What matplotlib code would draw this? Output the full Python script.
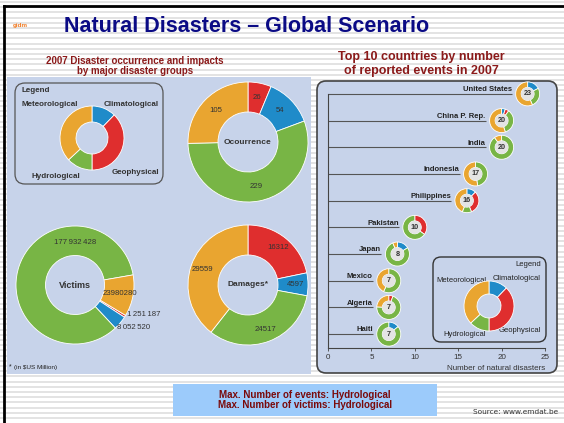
import numpy as np
import matplotlib
matplotlib.use("Agg")
import matplotlib.pyplot as plt
from matplotlib.patches import Rectangle, FancyBboxPatch, Circle
from matplotlib import font_manager

# groups and colours
groups = ["Climatological", "Geophysical", "Hydrological", "Meteorological"]
group_colors = {"Climatological": "#1f8bc9", "Geophysical": "#df2e2e",
                "Hydrological": "#78b545", "Meteorological": "#e9a530"}

# legend ring shares (as drawn)
legend_share = [44, 136, 47, 133]

# 2007 totals by group (order drawn clockwise: Geo, Clim, Hyd, Met)
big_order = ["Geophysical", "Climatological", "Hydrological", "Meteorological"]
occurrence = [26, 54, 229, 105]
victims = [1251187, 8052520, 177932428, 23980280]
damages = [16312, 4597, 24517, 29559]

# top 10 countries
countries = ["United States", "China P. Rep.", "India", "Indonesia", "Philippines",
             "Pakistan", "Japan", "Mexico", "Algeria", "Haiti"]
events = [23, 20, 20, 17, 16, 10, 8, 7, 7, 7]
# per country split: Clim, Geo, Hyd, Met
clim = [4, 1, 0, 0, 2, 0, 1.3, 0, 0, 1]
geo = [0, 1, 0, 0, 5, 3.5, 0, 0, 0.4, 0]
hyd = [6, 7, 18, 8, 2, 6.5, 6.2, 4, 4.9, 6]
met = [13, 11, 2, 9, 7, 0, 0.5, 3, 1.7, 0]

W, H = 564, 423
fig = plt.figure(figsize=(W / 100, H / 100), dpi=100)

try:
    font_manager.findfont("Liberation Sans Narrow", fallback_to_default=False)
    narrow = "Liberation Sans Narrow"
except Exception:
    narrow = "Liberation Sans"
sans = "Liberation Sans"

# page background in pixel coordinates
bg = fig.add_axes([0, 0, 1, 1])
bg.set_xlim(0, W)
bg.set_ylim(H, 0)
bg.axis("off")
bg.hlines(np.arange(2, H, 5.2), 0, W, color="#e3e3e3", lw=1.4, zorder=0)
bg.plot([4, 4], [6, H], color="black", lw=2, zorder=3)
bg.plot([4, W], [6, 6], color="black", lw=2, zorder=3)
bg.text(13, 27, "gidm", color="#f07a22", fontsize=4.5, fontweight="bold", family=sans)

bg.text(247, 27, "Natural Disasters \u2013 Global Scenario", ha="center", va="center",
        fontsize=15.5, fontweight="bold", color="#0b0b85", family=sans)
bg.text(135, 66, "2007 Disaster occurrence and impacts\nby major disaster groups",
        ha="center", va="center", fontsize=7, fontweight="bold", color="#8b1a1a",
        family=sans, linespacing=1.1)
bg.text(421, 64, "Top 10 countries by number\nof reported events in 2007",
        ha="center", va="center", fontsize=9, fontweight="bold", color="#8b1a1a",
        family=sans, linespacing=1.15)

panel = "#c7d3ea"
bg.add_patch(Rectangle((7, 77), 304, 297, fc=panel, ec="none", zorder=1))
bg.add_patch(FancyBboxPatch((317, 81), 240, 292, boxstyle="round,pad=0,rounding_size=9",
                            fc=panel, ec="#444444", lw=1.2, zorder=1))
bg.add_patch(FancyBboxPatch((15, 83), 148, 101, boxstyle="round,pad=0,rounding_size=10",
                            fc="none", ec="#555555", lw=0.9, zorder=2))
bg.add_patch(FancyBboxPatch((433, 257), 113, 85, boxstyle="round,pad=0,rounding_size=8",
                            fc="none", ec="#333333", lw=1, zorder=2))

bg.add_patch(Rectangle((173, 384), 264, 32, fc="#9ccbfb", ec="none", zorder=1))
bg.text(305, 400, "Max. Number of events: Hydrological\nMax. Number of victims: Hydrological",
        ha="center", va="center", fontsize=7, fontweight="bold", color="#7a0a0a",
        family=sans, linespacing=1.1)
bg.text(558, 412, "Source: www.emdat.be", ha="right", va="center", fontsize=5.3,
        color="#333333", family="DejaVu Sans")
bg.text(9, 367, "*", fontsize=5, color="#222222", family=sans, va="center")
bg.text(14, 368, "(in $US Million)", fontsize=4.6, color="#222222", family=narrow, va="center")


def donut(cx, cy, r, vals, cols, width, start=90):
    a = fig.add_axes([(cx - r) / W, 1 - (cy + r) / H, 2 * r / W, 2 * r / H])
    keep = [(v, c) for v, c in zip(vals, cols) if v > 0]
    wedges, _ = a.pie([k[0] for k in keep], colors=[k[1] for k in keep], radius=1,
                      startangle=start, counterclock=False,
                      wedgeprops=dict(width=width, edgecolor="white", linewidth=0.6))
    for w in wedges:
        w.set_clip_on(False)
    a.set_xlim(-1, 1)
    a.set_ylim(-1, 1)
    a.axis("off")
    return a, wedges


def mid(w, rl):
    t = np.deg2rad((w.theta1 + w.theta2) / 2)
    return rl * np.cos(t), rl * np.sin(t)


# left legend
leg_cols = [group_colors[g] for g in groups]
donut(92, 138, 32, legend_share, leg_cols, 0.5)
lt = dict(fontsize=5.8, fontweight="bold", color="#333333", family=sans, va="center")
bg.text(21, 90, "Legend", **lt)
bg.text(21, 104, "Meteorological", **lt)
bg.text(159, 104, "Climatological", ha="right", **lt)
bg.text(32, 177, "Hydrological", **lt)
bg.text(159, 173, "Geophysical", ha="right", **lt)

big_cols = [group_colors[g] for g in big_order]
num = dict(fontsize=5.6, color="#333333", family=narrow, ha="center", va="center")
ctr = dict(fontsize=6, fontweight="bold", color="#333333", family=sans, ha="center", va="center")

# occurrence
a, ws = donut(248, 142, 60, occurrence, big_cols, 0.5)
for w, v in zip(ws, occurrence):
    a.text(*mid(w, 0.75), str(v), **num)
a.text(0, 0, "Ocourrence", **ctr)

# damages
a, ws = donut(248, 285, 60, damages, big_cols, 0.5)
for w, v in zip(ws, damages):
    a.text(*mid(w, 0.8), str(v), **num)
a.text(0, 0, "Damages*", **ctr)

# victims
a, ws = donut(75, 285, 59, victims, big_cols, 0.5, start=-31)
fmt = lambda v: "{:,}".format(v).replace(",", "\u2009")
a.text(0, 0.72, fmt(victims[2]), **num)
a.text(*mid(ws[3], 0.78), "23980280", **num)
a.text(0.88, -0.5, fmt(victims[0]), **dict(num, ha="left"))
a.text(0.72, -0.72, fmt(victims[1]), **dict(num, ha="left"))
a.text(0, 0, "Victims", **dict(ctr, fontsize=6.5))

# right chart
x0, x25, ytop, ybot = 328, 545, 80, 348
ax = fig.add_axes([x0 / W, 1 - ybot / H, (x25 - x0) / W, (ybot - ytop) / H])
ax.patch.set_visible(False)
ypos = np.arange(len(countries))
ax.set_xlim(0, 25)
ax.set_ylim(9.52, -0.52)
for s in ["top", "right"]:
    ax.spines[s].set_visible(False)
ax.spines["bottom"].set_color("#444444")
ax.spines["left"].set_color("#444444")
ax.spines["left"].set_bounds(ypos[0], 9.52)
ax.set_yticks([])
ax.set_xticks(np.arange(0, 26, 5))
ax.tick_params(axis="x", length=2, width=0.6, color="#444444", labelsize=5.8,
               labelcolor="#333333", pad=2)
for lab in ax.get_xticklabels():
    lab.set_family(narrow)
ax.set_xlabel("Number of natural disasters", fontsize=5.8, color="#333333",
              family=narrow, loc="right", labelpad=3)

ppu = (x25 - x0) / 25.0
gap = 16 / ppu
ev = np.array(events)
ax.hlines(ypos, 0, ev - gap, color="#555555", lw=0.8)
for y, e, name in zip(ypos, ev, countries):
    ax.text(e - gap, y - 0.1, name, ha="right", va="baseline", fontsize=5.5,
            color="#222222", family=narrow, fontweight="bold")

for i in range(len(countries)):
    dx, dy = ax.transData.transform((events[i], ypos[i]))
    a, _ = donut(dx, H - dy, 12, [clim[i], geo[i], hyd[i], met[i]], leg_cols, 0.46)
    a.add_patch(Circle((0, 0), 0.54, fc="#e4e4e4", ec="none"))
    a.text(0, 0, str(events[i]), ha="center", va="center", fontsize=5.2,
           fontweight="bold", color="#333333", family=narrow)

# right legend
donut(489, 306, 25, legend_share, leg_cols, 0.52)
rt = dict(fontsize=5.5, color="#222222", family=narrow, va="center")
bg.text(541, 265, "Legend", ha="right", **rt)
bg.text(436, 280, "Meteorological", **rt)
bg.text(541, 279, "Climatological", ha="right", **rt)
bg.text(443, 334, "Hydrological", **rt)
bg.text(541, 331, "Geophysical", ha="right", **rt)

fig.savefig("out.png", dpi=100)
